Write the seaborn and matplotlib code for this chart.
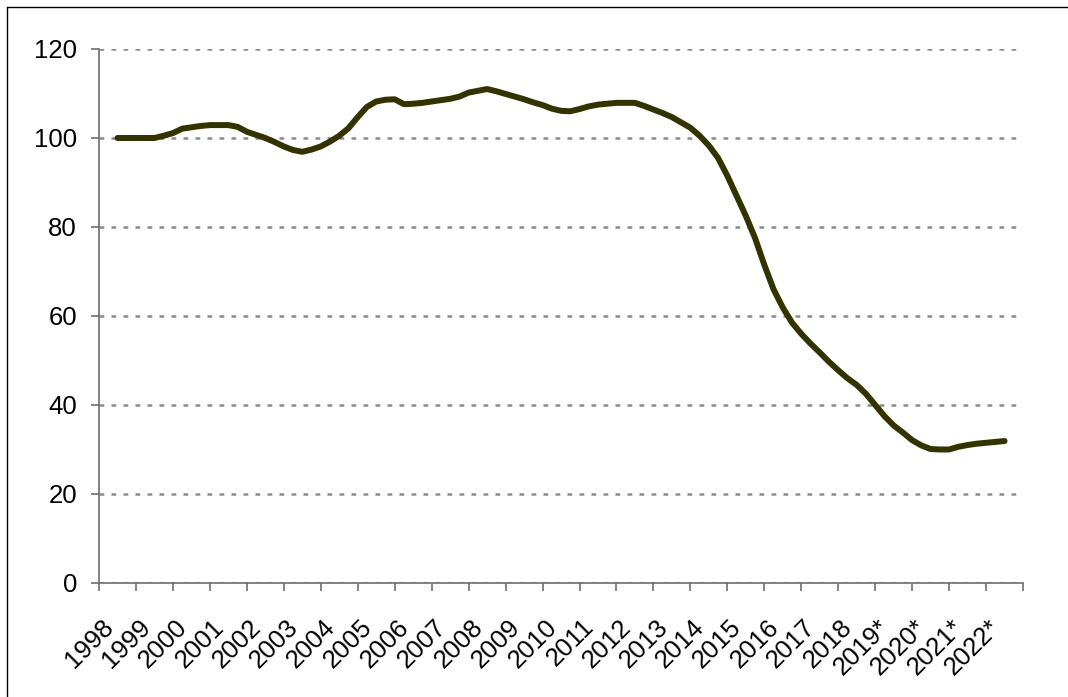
import numpy as np
import pandas as pd
import seaborn as sns
import matplotlib.pyplot as plt
from matplotlib.lines import Line2D
from matplotlib.transforms import ScaledTranslation

# category labels (one per year)
years = ['1998', '1999', '2000', '2001', '2002', '2003', '2004', '2005', '2006',
         '2007', '2008', '2009', '2010', '2011', '2012', '2013', '2014', '2015',
         '2016', '2017', '2018', '2019*', '2020*', '2021*', '2022*']

# quarterly readings, position in years from 1998 (0 = centre of 1998 category)
quarter_pos = [i / 4 for i in range(97)]
index_values = [
    100.0, 100.0, 100.0, 100.0, 100.0, 100.5, 101.1, 102.1,   # 1998-1999
    102.4, 102.7, 102.9, 102.9, 102.9, 102.5, 101.4, 100.7,   # 2000-2001
    100.0, 99.1, 98.1, 97.3, 96.9, 97.4, 98.1, 99.2,          # 2002-2003
    100.5, 102.2, 104.7, 107.0, 108.2, 108.6, 108.7, 107.6,   # 2004-2005
    107.7, 107.9, 108.2, 108.5, 108.8, 109.3, 110.2, 110.6,   # 2006-2007
    111.0, 110.5, 109.9, 109.3, 108.7, 108.0, 107.4, 106.6,   # 2008-2009
    106.1, 106.0, 106.5, 107.1, 107.5, 107.7, 107.9, 107.9,   # 2010-2011
    107.9, 107.2, 106.4, 105.6, 104.7, 103.5, 102.3, 100.5,   # 2012-2013
    98.3, 95.5, 91.5, 87.0, 82.5, 77.5, 71.5, 66.0,           # 2014-2015
    61.9, 58.5, 56.0, 53.8, 51.8, 49.7, 47.8, 46.0,           # 2016-2017
    44.5, 42.5, 40.0, 37.5, 35.4, 33.8, 32.1, 30.9,           # 2018-2019
    30.1, 30.0, 30.0, 30.6, 31.0, 31.3, 31.5, 31.7,           # 2020-2021
    31.9,                                                     # 2022
]

y_ticks = [0, 20, 40, 60, 80, 100, 120]

df = pd.DataFrame({'pos': quarter_pos, 'value': index_values})

sns.set_theme(style='white')
plt.rcParams['font.family'] = ['Liberation Sans', 'DejaVu Sans']

fig = plt.figure(figsize=(10.68, 6.97), dpi=100)
ax = fig.add_axes([0.0927, 0.1636, 0.8652, 0.7661])

sns.lineplot(data=df, x='pos', y='value', ax=ax, color='#333300',
             linewidth=4.3, solid_capstyle='round', solid_joinstyle='round')

ax.set_xlim(-0.5, len(years) - 0.5)
ax.set_ylim(0, 120)
ax.set_xlabel('')
ax.set_ylabel('')

# dotted gridlines
ax.set_yticks(y_ticks)
ax.yaxis.grid(True, color='#8c8c8c', linewidth=1.8, linestyle=(0, (1.9, 2.9)))
ax.xaxis.grid(False)
ax.set_axisbelow(True)

for side in ['top', 'right']:
    ax.spines[side].set_visible(False)
for side in ['left', 'bottom']:
    ax.spines[side].set_color('#6e6e6e')
    ax.spines[side].set_linewidth(1.2)

ax.tick_params(axis='y', which='major', direction='out', length=5.8, width=1.2,
               color='#6e6e6e', pad=10, labelsize=18.5, labelcolor='black', left=True)

# x: labels at category centres, tick marks at boundaries
ax.set_xticks(range(len(years)))
ax.set_xticklabels(years, rotation=45, ha='right', va='center', rotation_mode='anchor')
ax.set_xticks(np.arange(-0.5, len(years)), minor=True)
ax.tick_params(axis='x', which='major', length=0, pad=29, labelsize=18.5, labelcolor='black')
ax.tick_params(axis='x', which='minor', direction='out', length=5.8, width=1.2,
               color='#6e6e6e', bottom=True)
shift = ScaledTranslation(-8 / 100, 0, fig.dpi_scale_trans)
for lab in ax.get_xticklabels():
    lab.set_transform(lab.get_transform() + shift)

# outer chart frame (only top and left visible in the crop)
fig.add_artist(Line2D([7 / 1068, 7 / 1068], [0, 1 - 7 / 697], transform=fig.transFigure,
                      color='black', linewidth=1))
fig.add_artist(Line2D([7 / 1068, 1], [1 - 7 / 697, 1 - 7 / 697], transform=fig.transFigure,
                      color='black', linewidth=1))

fig.savefig('out.png', dpi=100)
